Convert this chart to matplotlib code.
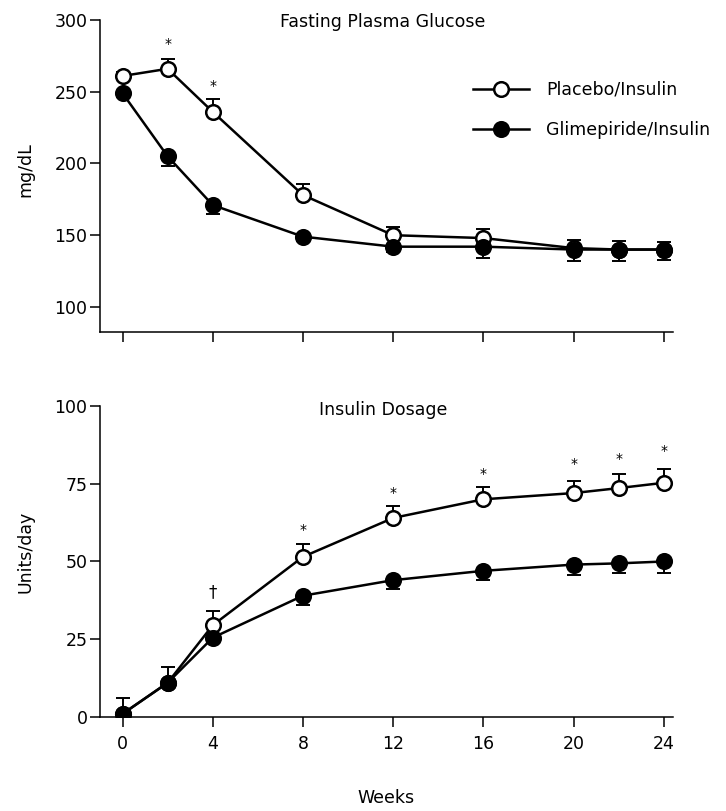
import matplotlib
matplotlib.use("Agg")
import matplotlib.pyplot as plt
import numpy as np

plt.rcParams['font.family'] = ['DejaVu Sans']

# ---- data ----
weeks = [0, 2, 4, 8, 12, 16, 20, 22, 24]
week_ticks = [0, 4, 8, 12, 16, 20, 24]

glu_placebo = [261, 266, 236, 178, 150, 148, 141, 140, 140]
glu_placebo_err = [3, 7, 9, 8, 6, 6, 6, 6, 5]
glu_glim = [249, 205, 171, 149, 142, 142, 140, 140, 140]
glu_glim_err = [3, 7, 6, 3, 4, 8, 8, 8, 7]

ins_placebo = [1, 11, 29.5, 51.5, 64, 70, 72, 73.6, 75.3]
ins_placebo_err = [5, 5, 4.5, 4, 4, 4, 4, 4.5, 4.5]
ins_glim = [1, 11, 25.5, 39, 44, 47, 49, 49.4, 50]
ins_glim_err = [1, 1, 1, 3, 3, 3, 3.5, 3, 3.7]

glu_sig_weeks = [2, 4]
glu_sig_y = [283, 254]
ins_sig_weeks = [4, 8, 12, 16, 20, 22, 24]
ins_sig_y = [40, 60, 72, 78, 81.5, 83, 85.5]
ins_sig_sym = ['†', '*', '*', '*', '*', '*', '*']

glu_yticks = [100, 150, 200, 250, 300]
ins_yticks = [0, 25, 50, 75, 100]

labels = ['Placebo/Insulin', 'Glimepiride/Insulin']

# ---- figure ----
fig = plt.figure(figsize=(7.26, 8.11), dpi=100)
ax1 = fig.add_axes([0.1377, 0.5906, 0.789, 0.3847])
ax2 = fig.add_axes([0.1377, 0.1159, 0.789, 0.3835])

FS = 12.5
LW = 1.8
MS = 10.5


def style(ax):
    for s in ['top', 'right']:
        ax.spines[s].set_visible(False)
    for s in ['left', 'bottom']:
        ax.spines[s].set_linewidth(1.1)
    ax.tick_params(direction='out', length=7, width=1.1, labelsize=FS, pad=2)
    ax.set_xticks(week_ticks)
    ax.set_xlim(-1.0, 24.4)


def draw(ax, yp, ep, yg, eg):
    z = np.zeros(len(weeks))
    ax.errorbar(weeks, yp, yerr=[z, ep], fmt='none', ecolor='black',
                elinewidth=1.4, capsize=5, capthick=1.4, zorder=2)
    ax.errorbar(weeks, yg, yerr=[eg, z], fmt='none', ecolor='black',
                elinewidth=1.4, capsize=5, capthick=1.4, zorder=2)
    lp, = ax.plot(weeks, yp, '-o', color='black', lw=LW, ms=MS,
                  mfc='white', mec='black', mew=1.8, zorder=3, label=labels[0])
    lg, = ax.plot(weeks, yg, '-o', color='black', lw=LW, ms=MS,
                  mfc='black', mec='black', mew=1.8, zorder=4, label=labels[1])
    return lp, lg


# top panel
style(ax1)
lp, lg = draw(ax1, glu_placebo, glu_placebo_err, glu_glim, glu_glim_err)
ax1.set_ylim(82.5, 300)
ax1.set_yticks(glu_yticks)
ax1.set_xticklabels([])
ax1.set_ylabel('mg/dL', fontsize=FS)
ax1.yaxis.set_label_coords(-0.115, 0.52)
ax1.text(0.494, 0.995, 'Fasting Plasma Glucose', transform=ax1.transAxes,
         ha='center', va='center', fontsize=FS)
for w, y in zip(glu_sig_weeks, glu_sig_y):
    ax1.text(w, y, '*', ha='center', va='center', fontsize=10)
ax1.legend(handles=[lp, lg], loc='upper left', bbox_to_anchor=(0.652, 0.805),
           frameon=False, fontsize=FS, handlelength=3.2, handletextpad=1.0,
           labelspacing=1.3, borderpad=0, borderaxespad=0)

# bottom panel
style(ax2)
draw(ax2, ins_placebo, ins_placebo_err, ins_glim, ins_glim_err)
ax2.set_ylim(0, 100)
ax2.set_yticks(ins_yticks)
ax2.set_xticklabels([str(w) for w in week_ticks])
ax2.tick_params(axis='x', pad=6)
ax2.set_ylabel('Units/day', fontsize=FS)
ax2.yaxis.set_label_coords(-0.115, 0.53)
ax2.set_xlabel('Weeks', fontsize=FS, labelpad=26)
ax2.text(0.494, 0.987, 'Insulin Dosage', transform=ax2.transAxes,
         ha='center', va='center', fontsize=FS)
for w, y, s in zip(ins_sig_weeks, ins_sig_y, ins_sig_sym):
    ax2.text(w, y, s, ha='center', va='center',
             fontsize=12 if s == '†' else 10)

fig.savefig('out.png', dpi=100)
